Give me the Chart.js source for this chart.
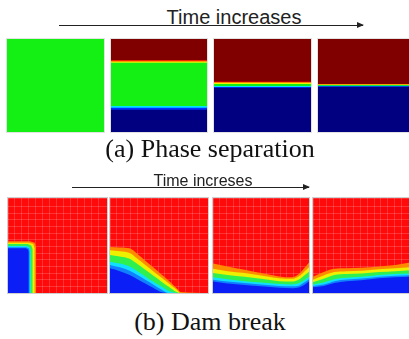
<!DOCTYPE html>
<html>
<head>
<meta charset="utf-8">
<script src="https://cdn.jsdelivr.net/npm/chart.js@4.4.1/dist/chart.umd.min.js"></script>
<style>
  body { margin: 0; width: 409px; height: 339px; background: #fff; position: relative; overflow: hidden; }
  .panel { position: absolute; }
  .panel canvas { display: block; }
  .phase { top: 39px; height: 93px; outline: 1px solid #e2e2e2; }
  .dam { top: 198px; height: 95px; outline: 1px solid #cfcfcf; }
  .txt { position: absolute; white-space: nowrap; line-height: 1; text-align: center; }
  .sans { font-family: "Liberation Sans", Arial, sans-serif; color: #222; }
  .serif { font-family: "Liberation Serif", "Times New Roman", serif; color: #111; }
  .arrow { position: absolute; height: 1px; background: #222; }
  .arrow::after { content: ""; position: absolute; right: -1px; top: -3px;
    border-left: 7px solid #222; border-top: 3.5px solid transparent; border-bottom: 3.5px solid transparent; }
</style>
</head>
<body>

<div class="txt sans" style="left:134px;width:200px;top:7px;font-size:20px;">Time increases</div>
<div class="arrow" style="left:59px;top:25px;width:304px;"></div>

<div class="panel phase" style="left:7px;width:97px;"><canvas id="phase1" width="97" height="93"></canvas></div>
<div class="panel phase" style="left:111px;width:96px;"><canvas id="phase2" width="96" height="93"></canvas></div>
<div class="panel phase" style="left:214px;width:97px;"><canvas id="phase3" width="97" height="93"></canvas></div>
<div class="panel phase" style="left:318px;width:97px;"><canvas id="phase4" width="97" height="93"></canvas></div>

<div class="txt serif" style="left:60px;width:300px;top:136px;font-size:26px;">(a) Phase separation</div>

<div class="txt sans" style="left:103px;width:200px;top:173px;font-size:16px;">Time increses</div>
<div class="arrow" style="left:72px;top:187px;width:237px;"></div>

<div class="panel dam" style="left:8px;width:99px;"><canvas id="dam1" width="99" height="95"></canvas></div>
<div class="panel dam" style="left:110px;width:98px;"><canvas id="dam2" width="98" height="95"></canvas></div>
<div class="panel dam" style="left:213px;width:96px;"><canvas id="dam3" width="96" height="95"></canvas></div>
<div class="panel dam" style="left:313px;width:97px;"><canvas id="dam4" width="97" height="95"></canvas></div>

<div class="txt serif" style="left:60px;width:300px;top:309px;font-size:26px;">(b) Dam break</div>

<script>
// (a) Phase separation: top of each colour band, % of panel height, bottom band first
const phaseBandNames = ["navy", "blue", "cyan", "green", "yellow", "orange", "red"];
const phaseBandColors = ["#000080", "#0030ff", "#00e0ff", "#14f014", "#f0f000", "#ff8000", "#f00000"];
const phaseBackground = "#800000";
const phase1Tops = [0, 0, 0, 100, 100, 100, 100];
const phase2Tops = [24, 26, 28, 74.5, 75.5, 76.5, 77.5];
const phase3Tops = [47.5, 48.5, 49.5, 51.6, 53, 53.6, 54.2];
const phase4Tops = [48.6, 49.2, 49.8, 50.5, 51, 51.3, 51.6];

// (b) Dam break: water surface and the colour bands above it, % of width / height
const damBandNames = ["blue", "light blue", "cyan", "green", "yellow", "orange"];
const damBandColors = ["#0a1ef5", "#1080ff", "#10e0ff", "#30f050", "#eef000", "#ff8a00"];
const damBackground = "#ff0a0a";

// panel 1: water column on the left, each band as [x, y] corners
const dam1Blue = [[0, 47], [18, 47], [20.5, 45.5], [21, 43], [21, 0]];
const dam1Light = [[0, 48.2], [18.5, 48.2], [21.3, 46.8], [22, 44], [22, 0]];
const dam1Cyan = [[0, 49.5], [19, 49.5], [22, 48], [23, 45], [23, 0]];
const dam1Green = [[0, 51.5], [20, 51.5], [23.5, 50], [25, 46], [25, 0]];
const dam1Yellow = [[0, 53], [21, 53], [25.5, 51.5], [27, 47], [27, 0]];
const dam1Orange = [[0, 54.5], [22, 54.5], [27, 53], [28.5, 48], [28.5, 0]];

// panel 2: collapsing front
const dam2X = [0, 10, 20, 28, 36, 44, 52, 60, 68, 72, 100];
const dam2Blue = [26, 23, 19, 14.5, 10, 5.5, 1, 0, 0, 0, 0];
const dam2Light = [29.5, 27, 23.5, 19, 14, 9, 4, 0, 0, 0, 0];
const dam2Cyan = [33, 31, 28, 23, 17.5, 12, 7, 2, 0, 0, 0];
const dam2Green = [40, 38.5, 36, 30.5, 24.5, 18.5, 12.5, 6.5, 1, 0, 0];
const dam2Yellow = [45, 44, 42, 36, 29.5, 23, 16.5, 10, 3.5, 0, 0];
const dam2Orange = [48.5, 48, 47, 41, 34, 27, 20, 13, 5, 1, 0];

// panel 3: water hits the right wall
const dam3X = [0, 15, 33, 50, 69, 82, 90, 95, 100];
const dam3Blue = [12, 10, 8.5, 7, 5.5, 5, 6, 8.5, 12];
const dam3Light = [14, 12, 10.5, 9, 7.5, 7, 8, 11, 14.5];
const dam3Cyan = [16.5, 14.5, 12.5, 11, 9.5, 9, 10.5, 13.5, 17];
const dam3Green = [21, 19, 17, 15, 12.5, 12, 14.5, 18.5, 22.5];
const dam3Yellow = [25.5, 23, 21, 18.5, 15.5, 15, 18, 22.5, 27];
const dam3Orange = [31, 28, 24.5, 21, 17.5, 16.5, 20.5, 26, 32];

// panel 4: wave travels back
const dam4X = [0, 11, 22, 35, 50, 68, 85, 100];
const dam4Blue = [6, 7.5, 10.5, 12.5, 13.5, 15.5, 16.5, 17];
const dam4Light = [7.5, 9, 12.5, 14.2, 15.2, 17.2, 18.2, 18.7];
const dam4Cyan = [9, 11, 14.5, 16, 17, 19, 20, 20.5];
const dam4Green = [11.5, 15, 19, 20, 20.5, 22, 23, 24];
const dam4Yellow = [14, 18.5, 22, 23, 23.5, 25, 26, 27];
const dam4Orange = [17, 22, 25.5, 26, 26.5, 28, 29.5, 32];

// Nền của từng ô
const panelBackground = {
  id: "panelBackground",
  beforeDraw(chart, args, opts) {
    const ctx = chart.ctx;
    ctx.save();
    ctx.fillStyle = opts.color;
    ctx.fillRect(0, 0, chart.width, chart.height);
    ctx.restore();
  },
};

function bandDataset(label, color, points, smooth) {
  return {
    label: label,
    data: points,
    fill: "origin",
    backgroundColor: color,
    borderColor: "rgba(0,0,0,0)",
    borderWidth: 0,
    pointRadius: 0,
    tension: 0,
    cubicInterpolationMode: smooth ? "monotone" : "default",
  };
}

function axis(showGrid) {
  return {
    type: "linear",
    min: 0,
    max: 100,
    display: showGrid,
    z: 1,
    ticks: { display: false, stepSize: 7 },
    grid: { drawTicks: false, color: "rgba(255,255,255,0.17)", lineWidth: 1 },
    border: { display: false },
  };
}

function drawPanel(id, datasets, bg, showGrid) {
  const ctx = document.getElementById(id).getContext("2d");
  return new Chart(ctx, {
    type: "line",
    data: { datasets: datasets },
    options: {
      responsive: false,
      animation: false,
      layout: { padding: 0 },
      plugins: {
        legend: { display: false },
        tooltip: { enabled: false },
        panelBackground: { color: bg },
      },
      scales: { x: axis(showGrid), y: axis(showGrid) },
    },
    plugins: [panelBackground],
  });
}

// lower bands first so they are painted last (on top)
function phaseDatasets(tops) {
  return tops.map((top, i) =>
    bandDataset(phaseBandNames[i], phaseBandColors[i], [{ x: 0, y: top }, { x: 100, y: top }], false)
  );
}

function damDatasets(xs, levels, smooth) {
  return levels.map((ys, i) => {
    const pts = xs ? xs.map((x, j) => ({ x: x, y: ys[j] })) : ys.map((p) => ({ x: p[0], y: p[1] }));
    return bandDataset(damBandNames[i], damBandColors[i], pts, smooth);
  });
}

drawPanel("phase1", phaseDatasets(phase1Tops), phaseBackground, false);
drawPanel("phase2", phaseDatasets(phase2Tops), phaseBackground, false);
drawPanel("phase3", phaseDatasets(phase3Tops), phaseBackground, false);
drawPanel("phase4", phaseDatasets(phase4Tops), phaseBackground, false);

drawPanel("dam1", damDatasets(null, [dam1Blue, dam1Light, dam1Cyan, dam1Green, dam1Yellow, dam1Orange], false), damBackground, true);
drawPanel("dam2", damDatasets(dam2X, [dam2Blue, dam2Light, dam2Cyan, dam2Green, dam2Yellow, dam2Orange], true), damBackground, true);
drawPanel("dam3", damDatasets(dam3X, [dam3Blue, dam3Light, dam3Cyan, dam3Green, dam3Yellow, dam3Orange], true), damBackground, true);
drawPanel("dam4", damDatasets(dam4X, [dam4Blue, dam4Light, dam4Cyan, dam4Green, dam4Yellow, dam4Orange], true), damBackground, true);
</script>
</body>
</html>
